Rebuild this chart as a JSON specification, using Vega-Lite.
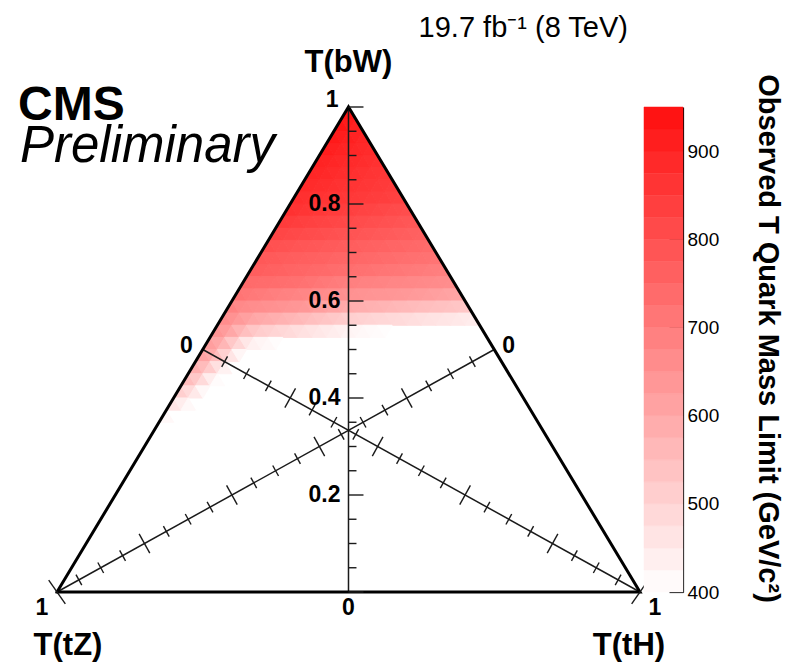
{
"$schema": "https://vega.github.io/schema/vega-lite/v6.json",
"width": 683,
"height": 485,
"autosize": {"type": "none"},
"padding": {"left": 0, "top": 107, "right": 104, "bottom": 74},
"background": "white",
"config": {"view": {"stroke": null}},
"datasets": {
"tri": [{"u":0,"b":0,"o":0},{"u":0.5,"b":1,"o":1},{"u":1,"b":0,"o":2},{"u":0,"b":0,"o":3}],
"ln": [{"u":0.5,"b":0,"u2":0.5,"b2":1},{"u":0.25,"b":0.5,"u2":1,"b2":0},{"u":0.75,"b":0.5,"u2":0,"b2":0}],
"vt": [{"b":0,"t":"M"},{"b":0.05,"t":"n"},{"b":0.1,"t":"n"},{"b":0.15,"t":"n"},{"b":0.2,"t":"M"},{"b":0.25,"t":"n"},{"b":0.3,"t":"n"},{"b":0.35,"t":"n"},{"b":0.4,"t":"M"},{"b":0.45,"t":"n"},{"b":0.5,"t":"n"},{"b":0.55,"t":"n"},{"b":0.6,"t":"M"},{"b":0.65,"t":"n"},{"b":0.7,"t":"n"},{"b":0.75,"t":"n"},{"b":0.8,"t":"M"},{"b":0.85,"t":"n"},{"b":0.9,"t":"n"},{"b":0.95,"t":"n"},{"b":1,"t":"M"}],
"mt": [
{"u":0.2875,"b":0.475,"ax":"A","t":"n"},{"u":0.325,"b":0.45,"ax":"A","t":"n"},{"u":0.3625,"b":0.425,"ax":"A","t":"n"},{"u":0.4,"b":0.4,"ax":"A","t":"M"},
{"u":0.4375,"b":0.375,"ax":"A","t":"n"},{"u":0.475,"b":0.35,"ax":"A","t":"n"},{"u":0.5125,"b":0.325,"ax":"A","t":"n"},{"u":0.55,"b":0.3,"ax":"A","t":"M"},
{"u":0.5875,"b":0.275,"ax":"A","t":"n"},{"u":0.625,"b":0.25,"ax":"A","t":"n"},{"u":0.6625,"b":0.225,"ax":"A","t":"n"},{"u":0.7,"b":0.2,"ax":"A","t":"M"},
{"u":0.7375,"b":0.175,"ax":"A","t":"n"},{"u":0.775,"b":0.15,"ax":"A","t":"n"},{"u":0.8125,"b":0.125,"ax":"A","t":"n"},{"u":0.85,"b":0.1,"ax":"A","t":"M"},
{"u":0.8875,"b":0.075,"ax":"A","t":"n"},{"u":0.925,"b":0.05,"ax":"A","t":"n"},{"u":0.9625,"b":0.025,"ax":"A","t":"n"},{"u":1,"b":0,"ax":"A","t":"E"},
{"u":0.7125,"b":0.475,"ax":"B","t":"n"},{"u":0.675,"b":0.45,"ax":"B","t":"n"},{"u":0.6375,"b":0.425,"ax":"B","t":"n"},{"u":0.6,"b":0.4,"ax":"B","t":"M"},
{"u":0.5625,"b":0.375,"ax":"B","t":"n"},{"u":0.525,"b":0.35,"ax":"B","t":"n"},{"u":0.4875,"b":0.325,"ax":"B","t":"n"},{"u":0.45,"b":0.3,"ax":"B","t":"M"},
{"u":0.4125,"b":0.275,"ax":"B","t":"n"},{"u":0.375,"b":0.25,"ax":"B","t":"n"},{"u":0.3375,"b":0.225,"ax":"B","t":"n"},{"u":0.3,"b":0.2,"ax":"B","t":"M"},
{"u":0.2625,"b":0.175,"ax":"B","t":"n"},{"u":0.225,"b":0.15,"ax":"B","t":"n"},{"u":0.1875,"b":0.125,"ax":"B","t":"n"},{"u":0.15,"b":0.1,"ax":"B","t":"M"},
{"u":0.1125,"b":0.075,"ax":"B","t":"n"},{"u":0.075,"b":0.05,"ax":"B","t":"n"},{"u":0.0375,"b":0.025,"ax":"B","t":"n"},{"u":0,"b":0,"ax":"B","t":"E"}],
"lab": [
{"u":0.5,"b":0.2,"text":"0.2","g":"v"},{"u":0.5,"b":0.4,"text":"0.4","g":"v"},{"u":0.5,"b":0.6,"text":"0.6","g":"v"},{"u":0.5,"b":0.8,"text":"0.8","g":"v"},
{"u":0.5,"b":1,"text":"1","g":"top"},{"u":0.25,"b":0.5,"text":"0","g":"ml"},{"u":0.75,"b":0.5,"text":"0","g":"mr"},
{"u":0,"b":0,"text":"1","g":"bl"},{"u":0.5,"b":0,"text":"0","g":"bc"},{"u":1,"b":0,"text":"1","g":"br"},
{"u":0.5,"b":1,"text":"T(bW)","g":"tb"},{"u":0,"b":0,"text":"T(tZ)","g":"tz"},{"u":1,"b":0,"text":"T(tH)","g":"th"}],
"cb": [
{"lo":400,"hi":425,"v":412.5},{"lo":425,"hi":450,"v":437.5},{"lo":450,"hi":475,"v":462.5},{"lo":475,"hi":500,"v":487.5},
{"lo":500,"hi":525,"v":512.5},{"lo":525,"hi":550,"v":537.5},{"lo":550,"hi":575,"v":562.5},{"lo":575,"hi":600,"v":587.5},
{"lo":600,"hi":625,"v":612.5},{"lo":625,"hi":650,"v":637.5},{"lo":650,"hi":675,"v":662.5},{"lo":675,"hi":700,"v":687.5},
{"lo":700,"hi":725,"v":712.5},{"lo":725,"hi":750,"v":737.5},{"lo":750,"hi":775,"v":762.5},{"lo":775,"hi":800,"v":787.5},
{"lo":800,"hi":825,"v":812.5},{"lo":825,"hi":850,"v":837.5},{"lo":850,"hi":875,"v":862.5},{"lo":875,"hi":900,"v":887.5},
{"lo":900,"hi":925,"v":912.5},{"lo":925,"hi":950,"v":937.5}]
},
"layer": [
{
"layer": [
{
"data": {"values": "u,b,s,v\n.5,.9875,u,929\n.4875,.9625,u,929\n.5,.9625,d,917\n.5125,.9625,u,905\n.475,.9375,u,920\n.4875,.9375,d,913\n.5,.9375,u,906\n.5125,.9375,d,899\n.525,.9375,u,892\n.4625,.9125,u,911\n.475,.9125,d,906\n.4875,.9125,u,901\n.5,.9125,d,896\n.5125,.9125,u,891\n.525,.9125,d,886\n.5375,.9125,u,881\n.45,.8875,u,901\n.4625,.8875,d,897\n.475,.8875,u,893\n.4875,.8875,d,889\n.5,.8875,u,885\n.5125,.8875,d,881\n.525,.8875,u,877\n.5375,.8875,d,873\n.55,.8875,u,869\n.4375,.8625,u,894\n.45,.8625,d,890\n.4625,.8625,u,886\n.475,.8625,d,882\n.4875,.8625,u,878\n.5,.8625,d,874\n.5125,.8625,u,870\n.525,.8625,d,866\n.5375,.8625,u,862\n.55,.8625,d,858\n.5625,.8625,u,854\n.425,.8375,u,884\n.4375,.8375,d,881\n.45,.8375,u,878\n.4625,.8375,d,874\n.475,.8375,u,871\n.4875,.8375,d,867\n.5,.8375,u,864\n.5125,.8375,d,861\n.525,.8375,u,857\n.5375,.8375,d,854\n.55,.8375,u,850\n.5625,.8375,d,847\n.575,.8375,u,844\n.4125,.8125,u,874\n.425,.8125,d,871\n.4375,.8125,u,868\n.45,.8125,d,865\n.4625,.8125,u,862\n.475,.8125,d,859\n.4875,.8125,u,856\n.5,.8125,d,853\n.5125,.8125,u,850\n.525,.8125,d,847\n.5375,.8125,u,844\n.55,.8125,d,841\n.5625,.8125,u,838\n.575,.8125,d,835\n.5875,.8125,u,832\n.4,.7875,u,868\n.4125,.7875,d,864\n.425,.7875,u,860\n.4375,.7875,d,856\n.45,.7875,u,852\n.4625,.7875,d,848\n.475,.7875,u,844\n.4875,.7875,d,840\n.5,.7875,u,836\n.5125,.7875,d,832\n.525,.7875,u,828\n.5375,.7875,d,824\n.55,.7875,u,820\n.5625,.7875,d,816\n.575,.7875,u,812\n.5875,.7875,d,808\n.6,.7875,u,804\n.3875,.7625,u,846\n.4,.7625,d,843\n.4125,.7625,u,839\n.425,.7625,d,835\n.4375,.7625,u,832\n.45,.7625,d,828\n.4625,.7625,u,825\n.475,.7625,d,821\n.4875,.7625,u,818\n.5,.7625,d,814\n.5125,.7625,u,810\n.525,.7625,d,807\n.5375,.7625,u,803\n.55,.7625,d,800\n.5625,.7625,u,796\n.575,.7625,d,793\n.5875,.7625,u,789\n.6,.7625,d,785\n.6125,.7625,u,782\n.375,.7375,u,823\n.3875,.7375,d,820\n.4,.7375,u,817\n.4125,.7375,d,814\n.425,.7375,u,810\n.4375,.7375,d,807\n.45,.7375,u,804\n.4625,.7375,d,801\n.475,.7375,u,797\n.4875,.7375,d,794\n.5,.7375,u,791\n.5125,.7375,d,788\n.525,.7375,u,785\n.5375,.7375,d,781\n.55,.7375,u,778\n.5625,.7375,d,775\n.575,.7375,u,772\n.5875,.7375,d,768\n.6,.7375,u,765\n.6125,.7375,d,762\n.625,.7375,u,759\n.3625,.7125,u,799\n.375,.7125,d,796\n.3875,.7125,u,793\n.4,.7125,d,790\n.4125,.7125,u,787\n.425,.7125,d,785\n.4375,.7125,u,782\n.45,.7125,d,779\n.4625,.7125,u,776\n.475,.7125,d,774\n.4875,.7125,u,771\n.5,.7125,d,768\n.5125,.7125,u,765\n.525,.7125,d,762\n.5375,.7125,u,760\n.55,.7125,d,757\n.5625,.7125,u,754\n.575,.7125,d,751\n.5875,.7125,u,749\n.6,.7125,d,746\n.6125,.7125,u,743\n.625,.7125,d,740\n.6375,.7125,u,737\n.35,.6875,u,779\n.3625,.6875,d,776\n.375,.6875,u,774\n.3875,.6875,d,771\n.4,.6875,u,768\n.4125,.6875,d,766\n.425,.6875,u,763\n.4375,.6875,d,761\n.45,.6875,u,758\n.4625,.6875,d,756\n.475,.6875,u,753\n.4875,.6875,d,751\n.5,.6875,u,748\n.5125,.6875,d,745\n.525,.6875,u,743\n.5375,.6875,d,740\n.55,.6875,u,738\n.5625,.6875,d,735\n.575,.6875,u,733\n.5875,.6875,d,730\n.6,.6875,u,728\n.6125,.6875,d,725\n.625,.6875,u,722\n.6375,.6875,d,720\n.65,.6875,u,717\n.3375,.6625,u,767\n.35,.6625,d,765\n.3625,.6625,u,762\n.375,.6625,d,759\n.3875,.6625,u,756\n.4,.6625,d,753\n.4125,.6625,u,750\n.425,.6625,d,747\n.4375,.6625,u,744\n.45,.6625,d,741\n.4625,.6625,u,738\n.475,.6625,d,735\n.4875,.6625,u,732\n.5,.6625,d,729\n.5125,.6625,u,726\n.525,.6625,d,723\n.5375,.6625,u,720\n.55,.6625,d,717\n.5625,.6625,u,714\n.575,.6625,d,711\n.5875,.6625,u,708\n.6,.6625,d,705\n.6125,.6625,u,702\n.625,.6625,d,699\n.6375,.6625,u,696\n.65,.6625,d,693\n.6625,.6625,u,691\n.325,.6375,u,739\n.3375,.6375,d,737\n.35,.6375,u,735\n.3625,.6375,d,733\n.375,.6375,u,731\n.3875,.6375,d,729\n.4,.6375,u,727\n.4125,.6375,d,724\n.425,.6375,u,720\n.4375,.6375,d,715\n.45,.6375,u,710\n.4625,.6375,d,705\n.475,.6375,u,700\n.4875,.6375,d,695\n.5,.6375,u,690\n.5125,.6375,d,688\n.525,.6375,u,685\n.5375,.6375,d,683\n.55,.6375,u,681\n.5625,.6375,d,679\n.575,.6375,u,676\n.5875,.6375,d,674\n.6,.6375,u,672\n.6125,.6375,d,670\n.625,.6375,u,668\n.6375,.6375,d,665\n.65,.6375,u,663\n.6625,.6375,d,661\n.675,.6375,u,659\n.3125,.6125,u,715\n.325,.6125,d,710\n.3375,.6125,u,705\n.35,.6125,d,701\n.3625,.6125,u,696\n.375,.6125,d,691\n.3875,.6125,u,687\n.4,.6125,d,683\n.4125,.6125,u,679\n.425,.6125,d,675\n.4375,.6125,u,671\n.45,.6125,d,667\n.4625,.6125,u,662\n.475,.6125,d,658\n.4875,.6125,u,654\n.5,.6125,d,650\n.5125,.6125,u,648\n.525,.6125,d,646\n.5375,.6125,u,644\n.55,.6125,d,642\n.5625,.6125,u,640\n.575,.6125,d,638\n.5875,.6125,u,636\n.6,.6125,d,634\n.6125,.6125,u,630\n.625,.6125,d,627\n.6375,.6125,u,622\n.65,.6125,d,618\n.6625,.6125,u,614\n.675,.6125,d,610\n.6875,.6125,u,606\n.3,.5875,u,685\n.3125,.5875,d,668\n.325,.5875,u,664\n.3375,.5875,d,660\n.35,.5875,u,656\n.3625,.5875,d,653\n.375,.5875,u,649\n.3875,.5875,d,645\n.4,.5875,u,641\n.4125,.5875,d,638\n.425,.5875,u,634\n.4375,.5875,d,627\n.45,.5875,u,619\n.4625,.5875,d,612\n.475,.5875,u,604\n.4875,.5875,d,596\n.5,.5875,u,589\n.5125,.5875,d,585\n.525,.5875,u,581\n.5375,.5875,d,578\n.55,.5875,u,574\n.5625,.5875,d,570\n.575,.5875,u,566\n.5875,.5875,d,562\n.6,.5875,u,559\n.6125,.5875,d,555\n.625,.5875,u,551\n.6375,.5875,d,547\n.65,.5875,u,544\n.6625,.5875,d,540\n.675,.5875,u,536\n.6875,.5875,d,532\n.7,.5875,u,528\n.2875,.5625,u,660\n.3,.5625,d,648\n.3125,.5625,u,630\n.325,.5625,d,615\n.3375,.5625,u,603\n.35,.5625,d,596\n.3625,.5625,u,589\n.375,.5625,d,582\n.3875,.5625,u,575\n.4,.5625,d,568\n.4125,.5625,u,561\n.425,.5625,d,554\n.4375,.5625,u,546\n.45,.5625,d,539\n.4625,.5625,u,532\n.475,.5625,d,525\n.4875,.5625,u,518\n.5,.5625,d,510\n.5125,.5625,u,506\n.525,.5625,d,502\n.5375,.5625,u,498\n.55,.5625,d,494\n.5625,.5625,u,491\n.575,.5625,d,487\n.5875,.5625,u,483\n.6,.5625,d,479\n.6125,.5625,u,475\n.625,.5625,d,471\n.6375,.5625,u,467\n.65,.5625,d,464\n.6625,.5625,u,460\n.675,.5625,d,456\n.6875,.5625,u,452\n.7,.5625,d,448\n.7125,.5625,u,444\n.275,.5375,u,640\n.2875,.5375,d,625\n.3,.5375,u,600\n.3125,.5375,d,570\n.325,.5375,u,545\n.3375,.5375,d,527\n.35,.5375,u,513\n.3625,.5375,d,506\n.375,.5375,u,498\n.3875,.5375,d,491\n.4,.5375,u,484\n.4125,.5375,d,476\n.425,.5375,u,469\n.4375,.5375,d,462\n.45,.5375,u,455\n.4625,.5375,d,447\n.475,.5375,u,440\n.4875,.5375,d,433\n.5,.5375,u,424\n.5125,.5375,d,420\n.525,.5375,u,416\n.5375,.5375,d,412\n.55,.5375,u,408\n.5625,.5375,d,404\n.2625,.5125,u,620\n.275,.5125,d,600\n.2875,.5125,u,565\n.3,.5125,d,525\n.3125,.5125,u,490\n.325,.5125,d,455\n.3375,.5125,u,431\n.35,.5125,d,423\n.3625,.5125,u,415\n.375,.5125,d,407\n.25,.4875,u,610\n.2625,.4875,d,590\n.275,.4875,u,550\n.2875,.4875,d,505\n.3,.4875,u,460\n.3125,.4875,d,420\n.2375,.4625,u,580\n.25,.4625,d,555\n.2625,.4625,u,515\n.275,.4625,d,470\n.2875,.4625,u,430\n.225,.4375,u,550\n.2375,.4375,d,525\n.25,.4375,u,485\n.2625,.4375,d,440\n.275,.4375,u,410\n.2125,.4125,u,510\n.225,.4125,d,485\n.2375,.4125,u,450\n.25,.4125,d,415\n.2,.3875,u,460\n.2125,.3875,d,440\n.225,.3875,u,415\n.1875,.3625,u,415", "format": {"type": "csv", "parse": {"u": "number", "b": "number", "v": "number"}}},
"mark": {"type": "point", "filled": true, "opacity": 1, "size": 212.4, "strokeWidth": 1.0},
"encoding": {
"x": {"field": "u", "type": "quantitative", "scale": {"domain": [-0.0978, 1.0738], "nice": false, "zero": false}, "axis": null},
"y": {"field": "b", "type": "quantitative", "scale": {"domain": [0, 1], "nice": false, "zero": false}, "axis": null},
"fill": {"field": "v", "type": "quantitative", "scale": {"domain": [400, 950], "range": ["#ffffff", "#ff0d0d"], "interpolate": "rgb", "clamp": true}, "legend": null},
"stroke": {"field": "v", "type": "quantitative", "scale": {"domain": [400, 950], "range": ["#ffffff", "#ff0d0d"], "interpolate": "rgb", "clamp": true}, "legend": null},
"shape": {"field": "s", "type": "nominal", "scale": {"domain": ["u", "d"], "range": ["M0,-0.832L1,0.832L-1,0.832Z", "M-1,-0.832L1,-0.832L0,0.832Z"]}, "legend": null}
}
},
{
"data": {"name": "ln"},
"mark": {"type": "rule", "color": "#1a1a1a", "strokeWidth": 1.5},
"encoding": {
"x": {"field": "u", "type": "quantitative", "scale": {"domain": [-0.0978, 1.0738], "nice": false, "zero": false}, "axis": null},
"y": {"field": "b", "type": "quantitative", "scale": {"domain": [0, 1], "nice": false, "zero": false}, "axis": null},
"x2": {"field": "u2"}, "y2": {"field": "b2"}}
},
{
"data": {"name": "tri"},
"mark": {"type": "line", "color": "black", "strokeWidth": 3, "strokeJoin": "miter", "strokeCap": "square"},
"encoding": {
"x": {"field": "u", "type": "quantitative", "scale": {"domain": [-0.0978, 1.0738], "nice": false, "zero": false}, "axis": null},
"y": {"field": "b", "type": "quantitative", "scale": {"domain": [0, 1], "nice": false, "zero": false}, "axis": null},
"order": {"field": "o", "type": "quantitative"}}
},
{
"data": {"name": "vt"},
"transform": [{"filter": "datum.t == 'M'"}],
"mark": {"type": "rule", "color": "#1a1a1a", "strokeWidth": 1.4},
"encoding": {
"x": {"datum": 0.5, "type": "quantitative", "scale": {"domain": [-0.0978, 1.0738], "nice": false, "zero": false}, "axis": null},
"x2": {"datum": 0.5257},
"y": {"field": "b", "type": "quantitative", "scale": {"domain": [0, 1], "nice": false, "zero": false}, "axis": null}}
},
{
"data": {"name": "vt"},
"transform": [{"filter": "datum.t == 'n'"}],
"mark": {"type": "rule", "color": "#1a1a1a", "strokeWidth": 1.4},
"encoding": {
"x": {"datum": 0.5, "type": "quantitative", "scale": {"domain": [-0.0978, 1.0738], "nice": false, "zero": false}, "axis": null},
"x2": {"datum": 0.5137},
"y": {"field": "b", "type": "quantitative", "scale": {"domain": [0, 1], "nice": false, "zero": false}, "axis": null}}
},
{
"data": {"name": "mt"},
"transform": [{"filter": "datum.ax == 'A' && datum.t == 'n'"}],
"mark": {"type": "point", "shape": "stroke", "angle": 119, "size": 144, "color": "#1a1a1a", "filled": false, "strokeWidth": 1.4, "opacity": 1},
"encoding": {
"x": {"field": "u", "type": "quantitative", "scale": {"domain": [-0.0978, 1.0738], "nice": false, "zero": false}, "axis": null},
"y": {"field": "b", "type": "quantitative", "scale": {"domain": [0, 1], "nice": false, "zero": false}, "axis": null}}
},
{
"data": {"name": "mt"},
"transform": [{"filter": "datum.ax == 'A' && datum.t == 'M'"}],
"mark": {"type": "point", "shape": "stroke", "angle": 119, "size": 484, "color": "#1a1a1a", "filled": false, "strokeWidth": 1.4, "opacity": 1},
"encoding": {
"x": {"field": "u", "type": "quantitative", "scale": {"domain": [-0.0978, 1.0738], "nice": false, "zero": false}, "axis": null},
"y": {"field": "b", "type": "quantitative", "scale": {"domain": [0, 1], "nice": false, "zero": false}, "axis": null}}
},
{
"data": {"name": "mt"},
"transform": [{"filter": "datum.ax == 'A' && datum.t == 'E'"}],
"mark": {"type": "point", "shape": "stroke", "angle": 125, "size": 841, "color": "#1a1a1a", "filled": false, "strokeWidth": 1.4, "opacity": 1},
"encoding": {
"x": {"field": "u", "type": "quantitative", "scale": {"domain": [-0.0978, 1.0738], "nice": false, "zero": false}, "axis": null},
"y": {"field": "b", "type": "quantitative", "scale": {"domain": [0, 1], "nice": false, "zero": false}, "axis": null}}
},
{
"data": {"name": "mt"},
"transform": [{"filter": "datum.ax == 'B' && datum.t == 'n'"}],
"mark": {"type": "point", "shape": "stroke", "angle": 61, "size": 144, "color": "#1a1a1a", "filled": false, "strokeWidth": 1.4, "opacity": 1},
"encoding": {
"x": {"field": "u", "type": "quantitative", "scale": {"domain": [-0.0978, 1.0738], "nice": false, "zero": false}, "axis": null},
"y": {"field": "b", "type": "quantitative", "scale": {"domain": [0, 1], "nice": false, "zero": false}, "axis": null}}
},
{
"data": {"name": "mt"},
"transform": [{"filter": "datum.ax == 'B' && datum.t == 'M'"}],
"mark": {"type": "point", "shape": "stroke", "angle": 61, "size": 484, "color": "#1a1a1a", "filled": false, "strokeWidth": 1.4, "opacity": 1},
"encoding": {
"x": {"field": "u", "type": "quantitative", "scale": {"domain": [-0.0978, 1.0738], "nice": false, "zero": false}, "axis": null},
"y": {"field": "b", "type": "quantitative", "scale": {"domain": [0, 1], "nice": false, "zero": false}, "axis": null}}
},
{
"data": {"name": "mt"},
"transform": [{"filter": "datum.ax == 'B' && datum.t == 'E'"}],
"mark": {"type": "point", "shape": "stroke", "angle": 55, "size": 841, "color": "#1a1a1a", "filled": false, "strokeWidth": 1.4, "opacity": 1},
"encoding": {
"x": {"field": "u", "type": "quantitative", "scale": {"domain": [-0.0978, 1.0738], "nice": false, "zero": false}, "axis": null},
"y": {"field": "b", "type": "quantitative", "scale": {"domain": [0, 1], "nice": false, "zero": false}, "axis": null}}
},
{
"data": {"name": "lab"},
"transform": [{"filter": "datum.g == 'v'"}],
"mark": {"type": "text", "align": "right", "baseline": "middle", "dx": -8, "font": "Liberation Sans", "fontWeight": "bold", "fontSize": 23, "color": "black"},
"encoding": {
"x": {"field": "u", "type": "quantitative", "scale": {"domain": [-0.0978, 1.0738], "nice": false, "zero": false}, "axis": null},
"y": {"field": "b", "type": "quantitative", "scale": {"domain": [0, 1], "nice": false, "zero": false}, "axis": null},
"text": {"field": "text"}}
},
{
"data": {"name": "lab"},
"transform": [{"filter": "datum.g == 'top'"}],
"mark": {"type": "text", "align": "right", "baseline": "middle", "dx": -10, "dy": -7, "font": "Liberation Sans", "fontWeight": "bold", "fontSize": 23, "color": "black"},
"encoding": {
"x": {"field": "u", "type": "quantitative", "scale": {"domain": [-0.0978, 1.0738], "nice": false, "zero": false}, "axis": null},
"y": {"field": "b", "type": "quantitative", "scale": {"domain": [0, 1], "nice": false, "zero": false}, "axis": null},
"text": {"field": "text"}}
},
{
"data": {"name": "lab"},
"transform": [{"filter": "datum.g == 'ml'"}],
"mark": {"type": "text", "align": "right", "baseline": "middle", "dx": -10, "dy": -4, "font": "Liberation Sans", "fontWeight": "bold", "fontSize": 23, "color": "black"},
"encoding": {
"x": {"field": "u", "type": "quantitative", "scale": {"domain": [-0.0978, 1.0738], "nice": false, "zero": false}, "axis": null},
"y": {"field": "b", "type": "quantitative", "scale": {"domain": [0, 1], "nice": false, "zero": false}, "axis": null},
"text": {"field": "text"}}
},
{
"data": {"name": "lab"},
"transform": [{"filter": "datum.g == 'mr'"}],
"mark": {"type": "text", "align": "left", "baseline": "middle", "dx": 8, "dy": -4, "font": "Liberation Sans", "fontWeight": "bold", "fontSize": 23, "color": "black"},
"encoding": {
"x": {"field": "u", "type": "quantitative", "scale": {"domain": [-0.0978, 1.0738], "nice": false, "zero": false}, "axis": null},
"y": {"field": "b", "type": "quantitative", "scale": {"domain": [0, 1], "nice": false, "zero": false}, "axis": null},
"text": {"field": "text"}}
},
{
"data": {"name": "lab"},
"transform": [{"filter": "datum.g == 'bl'"}],
"mark": {"type": "text", "align": "center", "baseline": "middle", "dx": -15, "dy": 16, "font": "Liberation Sans", "fontWeight": "bold", "fontSize": 23, "color": "black"},
"encoding": {
"x": {"field": "u", "type": "quantitative", "scale": {"domain": [-0.0978, 1.0738], "nice": false, "zero": false}, "axis": null},
"y": {"field": "b", "type": "quantitative", "scale": {"domain": [0, 1], "nice": false, "zero": false}, "axis": null},
"text": {"field": "text"}}
},
{
"data": {"name": "lab"},
"transform": [{"filter": "datum.g == 'bc'"}],
"mark": {"type": "text", "align": "center", "baseline": "middle", "dy": 16, "font": "Liberation Sans", "fontWeight": "bold", "fontSize": 23, "color": "black"},
"encoding": {
"x": {"field": "u", "type": "quantitative", "scale": {"domain": [-0.0978, 1.0738], "nice": false, "zero": false}, "axis": null},
"y": {"field": "b", "type": "quantitative", "scale": {"domain": [0, 1], "nice": false, "zero": false}, "axis": null},
"text": {"field": "text"}}
},
{
"data": {"name": "lab"},
"transform": [{"filter": "datum.g == 'br'"}],
"mark": {"type": "text", "align": "center", "baseline": "middle", "dx": 15, "dy": 16, "font": "Liberation Sans", "fontWeight": "bold", "fontSize": 23, "color": "black"},
"encoding": {
"x": {"field": "u", "type": "quantitative", "scale": {"domain": [-0.0978, 1.0738], "nice": false, "zero": false}, "axis": null},
"y": {"field": "b", "type": "quantitative", "scale": {"domain": [0, 1], "nice": false, "zero": false}, "axis": null},
"text": {"field": "text"}}
},
{
"data": {"name": "lab"},
"transform": [{"filter": "datum.g == 'tb'"}],
"mark": {"type": "text", "align": "center", "baseline": "middle", "dy": -44, "font": "Liberation Sans", "fontWeight": "bold", "fontSize": 31, "color": "black"},
"encoding": {
"x": {"field": "u", "type": "quantitative", "scale": {"domain": [-0.0978, 1.0738], "nice": false, "zero": false}, "axis": null},
"y": {"field": "b", "type": "quantitative", "scale": {"domain": [0, 1], "nice": false, "zero": false}, "axis": null},
"text": {"field": "text"}}
},
{
"data": {"name": "lab"},
"transform": [{"filter": "datum.g == 'tz'"}],
"mark": {"type": "text", "align": "center", "baseline": "middle", "dx": 11, "dy": 54, "font": "Liberation Sans", "fontWeight": "bold", "fontSize": 31, "color": "black"},
"encoding": {
"x": {"field": "u", "type": "quantitative", "scale": {"domain": [-0.0978, 1.0738], "nice": false, "zero": false}, "axis": null},
"y": {"field": "b", "type": "quantitative", "scale": {"domain": [0, 1], "nice": false, "zero": false}, "axis": null},
"text": {"field": "text"}}
},
{
"data": {"name": "lab"},
"transform": [{"filter": "datum.g == 'th'"}],
"mark": {"type": "text", "align": "center", "baseline": "middle", "dx": -11, "dy": 54, "font": "Liberation Sans", "fontWeight": "bold", "fontSize": 31, "color": "black"},
"encoding": {
"x": {"field": "u", "type": "quantitative", "scale": {"domain": [-0.0978, 1.0738], "nice": false, "zero": false}, "axis": null},
"y": {"field": "b", "type": "quantitative", "scale": {"domain": [0, 1], "nice": false, "zero": false}, "axis": null},
"text": {"field": "text"}}
},
{
"data": {"values": [{"t": "CMS"}]},
"mark": {"type": "text", "align": "left", "baseline": "alphabetic", "font": "Liberation Sans", "fontWeight": "bold", "fontSize": 48, "color": "black"},
"encoding": {
"x": {"datum": -0.0669, "type": "quantitative", "scale": {"domain": [-0.0978, 1.0738], "nice": false, "zero": false}, "axis": null},
"y": {"datum": 0.9732, "type": "quantitative", "scale": {"domain": [0, 1], "nice": false, "zero": false}, "axis": null},
"text": {"field": "t"}}
},
{
"data": {"values": [{"t": "Preliminary"}]},
"mark": {"type": "text", "align": "left", "baseline": "alphabetic", "font": "Liberation Sans", "fontStyle": "italic", "fontSize": 51, "color": "black"},
"encoding": {
"x": {"datum": -0.0635, "type": "quantitative", "scale": {"domain": [-0.0978, 1.0738], "nice": false, "zero": false}, "axis": null},
"y": {"datum": 0.8866, "type": "quantitative", "scale": {"domain": [0, 1], "nice": false, "zero": false}, "axis": null},
"text": {"field": "t"}}
},
{
"data": {"values": [{"t": "19.7 fb⁻¹ (8 TeV)"}]},
"mark": {"type": "text", "align": "right", "baseline": "alphabetic", "font": "Liberation Sans", "fontSize": 29, "color": "black"},
"encoding": {
"x": {"datum": 0.9794, "type": "quantitative", "scale": {"domain": [-0.0978, 1.0738], "nice": false, "zero": false}, "axis": null},
"y": {"datum": 1.1443, "type": "quantitative", "scale": {"domain": [0, 1], "nice": false, "zero": false}, "axis": null},
"text": {"field": "t"}}
}
]
},
{
"data": {"name": "cb"},
"mark": {"type": "rect", "strokeWidth": 0.5},
"encoding": {
"x": {"datum": 1.0069, "type": "quantitative", "scale": {"domain": [-0.0978, 1.0738], "nice": false, "zero": false}, "axis": null},
"x2": {"datum": 1.0738},
"y": {"field": "lo", "type": "quantitative", "scale": {"domain": [400, 950], "nice": false, "zero": false},
"axis": {"orient": "right", "values": [400, 500, 600, 700, 800, 900], "format": "d", "title": "Observed T Quark Mass Limit (GeV/c²)", "titleFont": "Liberation Sans", "titleFontSize": 29, "titleFontWeight": "bold", "titleColor": "black", "titleAngle": 90, "titleBaseline": "bottom", "titleAlign": "center", "titleX": 69, "titleY": 231, "labelFont": "Liberation Sans", "labelFontSize": 19, "labelColor": "black", "labelPadding": 18, "labelBaseline": "middle", "tickSize": -14, "tickColor": "black", "tickWidth": 1.2, "domainColor": "black", "domainWidth": 1.2, "grid": false, "labelFlush": false, "labelOverlap": false}},
"y2": {"field": "hi"},
"fill": {"field": "v", "type": "quantitative", "scale": {"domain": [400, 950], "range": ["#ffffff", "#ff0d0d"], "interpolate": "rgb", "clamp": true}, "legend": null},
"stroke": {"field": "v", "type": "quantitative", "scale": {"domain": [400, 950], "range": ["#ffffff", "#ff0d0d"], "interpolate": "rgb", "clamp": true}, "legend": null}
}
}
],
"resolve": {"scale": {"y": "independent"}}
}
